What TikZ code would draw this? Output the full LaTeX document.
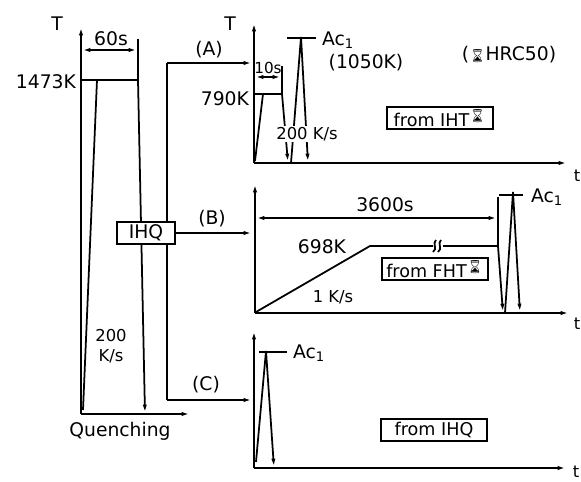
\documentclass[tikz,border=0pt]{standalone}
\usepackage{fontspec}
\setmainfont{DejaVu Sans}
\newfontfamily\emojifont{Noto Emoji}
\usetikzlibrary{arrows.meta}
\newcommand{\hmark}{{\emojifont\fontsize{11}{11}\selectfont ⌛}}

\begin{document}
\begin{tikzpicture}[x=0.03cm, y=-0.03cm, line width=1.5pt, >={Latex[length=8pt,width=3.5pt]},
    lbl/.style={inner sep=1pt, font=\fontsize{16}{18}\selectfont},
    small/.style={inner sep=1pt, font=\fontsize{14}{16}\selectfont},
    tag/.style={draw, fill=white, line width=1.2pt, inner sep=2pt, minimum height=0.66cm, font=\fontsize{15}{17}\selectfont}]
    \useasboundingbox (0,0) rectangle (581,482);

    % left: heating and quenching
    \coordinate (o0) at (81,414);
    \coordinate (t0) at (81,26);
    \coordinate (x0) at (191,414);
    \coordinate (a0) at (81,80);
    \coordinate (s0) at (83,410);
    \coordinate (h1) at (97,80);
    \coordinate (h2) at (138,80);
    \coordinate (d0) at (138,39);
    \coordinate (q0) at (145,414);
    \draw [->] (o0) -- (t0);
    \draw [->] (o0) -- (x0);
    \draw (a0) -- (h2);
    \draw (s0) -- (h1);
    \draw (d0) -- (h2);
    \draw [->] (h2) -- (q0);
    \draw [<->] (81,50) -- (138,50);

    \node [lbl] (T0) at (57,24) {T};
    \node [lbl] (dur0) at (111,39) {60s};
    \node [lbl, anchor=east] (temp0) at (78,82) {1473K};
    \node [small] (r0a) at (111,336) {200};
    \node [small] (r0b) at (111,356) {K/s};
    \node [lbl] (quench) at (120,431) {Quenching};

    % branches
    \coordinate (bA) at (167,63);
    \coordinate (bC) at (167,400);
    \coordinate (eA) at (253,63);
    \coordinate (eB) at (253,233);
    \coordinate (eC) at (253,400);
    \draw (bA) -- (bC);
    \node [tag, minimum width=1.74cm, font=\fontsize{16}{18}\selectfont] (ihq) at (146,233) {IHQ};
    \begin{scope}[->]
        \draw (bA) -- (eA);
        \draw (ihq.east) -- (eB);
        \draw (bC) -- (eC);
    \end{scope}
    \node [lbl] (lA) at (209,50) {(A)};
    \node [lbl] (lB) at (212,219) {(B)};
    \node [lbl] (lC) at (206,385) {(C)};

    % (A) from IHT
    \coordinate (oA) at (254,163);
    \draw [->] (oA) -- (254,22);
    \draw [->] (oA) -- (568,163);
    \draw (254,94) -- (282,94);
    \draw (255,161) -- (263,94);
    \draw (282,66) -- (282,94);
    \draw [->] (282,94) -- (288,163);
    \draw [->] (291,163) -- (301,37) -- (308,163);
    \draw (287,38) -- (316,38);
    \draw [<->] (254,77) -- (282,77);
    \node [small, fill=white] (rA) at (307,134) {200 K/s};
    \node [lbl] (TA) at (230,24) {T};
    \node [small] (tA) at (577,176) {t};
    \node [small, font=\fontsize{13}{15}\selectfont] (durA) at (268,68) {10s};
    \node [lbl, anchor=east] (tempA) at (251,99) {790K};
    \node [lbl, anchor=west] (acA) at (320,40) {Ac\textsubscript{1}};
    \node [lbl] (acAk) at (366,63) {(1050K)};
    \node [lbl] (hrc) at (509,55) {(\hmark HRC50)};
    \node [tag, minimum width=3.18cm] (iht) at (440,118) {from IHT\textsuperscript{\hmark}};

    % (B) from FHT
    \coordinate (oB) at (255,313);
    \draw [->] (oB) -- (255,183);
    \draw [->] (oB) -- (570,313);
    \draw (256,312) -- (370,246) -- (433,246);
    \draw (443,246) -- (498,246);
    \draw (433,252) .. controls (438,249) and (432,243) .. (436,240);
    \draw (438,252) .. controls (443,249) and (437,243) .. (441,240);
    \draw (498,197) -- (498,246);
    \draw [->] (498,246) -- (503,313);
    \draw [->] (505,313) -- (513,192) -- (520,313);
    \draw (499,195) -- (523,195);
    \draw [<->] (255,218) -- (498,218);
    \node [lbl] (durB) at (385,205) {3600s};
    \node [lbl] (tempB) at (322,247) {698K};
    \node [small] (rB) at (333,297) {1 K/s};
    \node [lbl, anchor=west] (acB) at (529,197) {Ac\textsubscript{1}};
    \node [small] (tB) at (577,324) {t};
    \node [tag, minimum width=3.18cm] (fht) at (435,269) {from FHT\textsuperscript{\hmark}};

    % (C) from IHQ
    \coordinate (oC) at (254,468);
    \draw [->] (oC) -- (254,330);
    \draw [->] (oC) -- (567,468);
    \draw [->] (256,462) -- (266,351) -- (274,468);
    \draw (259,352) -- (287,352);
    \node [lbl, anchor=west] (acC) at (291,353) {Ac\textsubscript{1}};
    \node [small] (tC) at (576,472) {t};
    \node [tag, minimum width=3.18cm] (ihqC) at (434,430) {from IHQ};
\end{tikzpicture}
\end{document}
